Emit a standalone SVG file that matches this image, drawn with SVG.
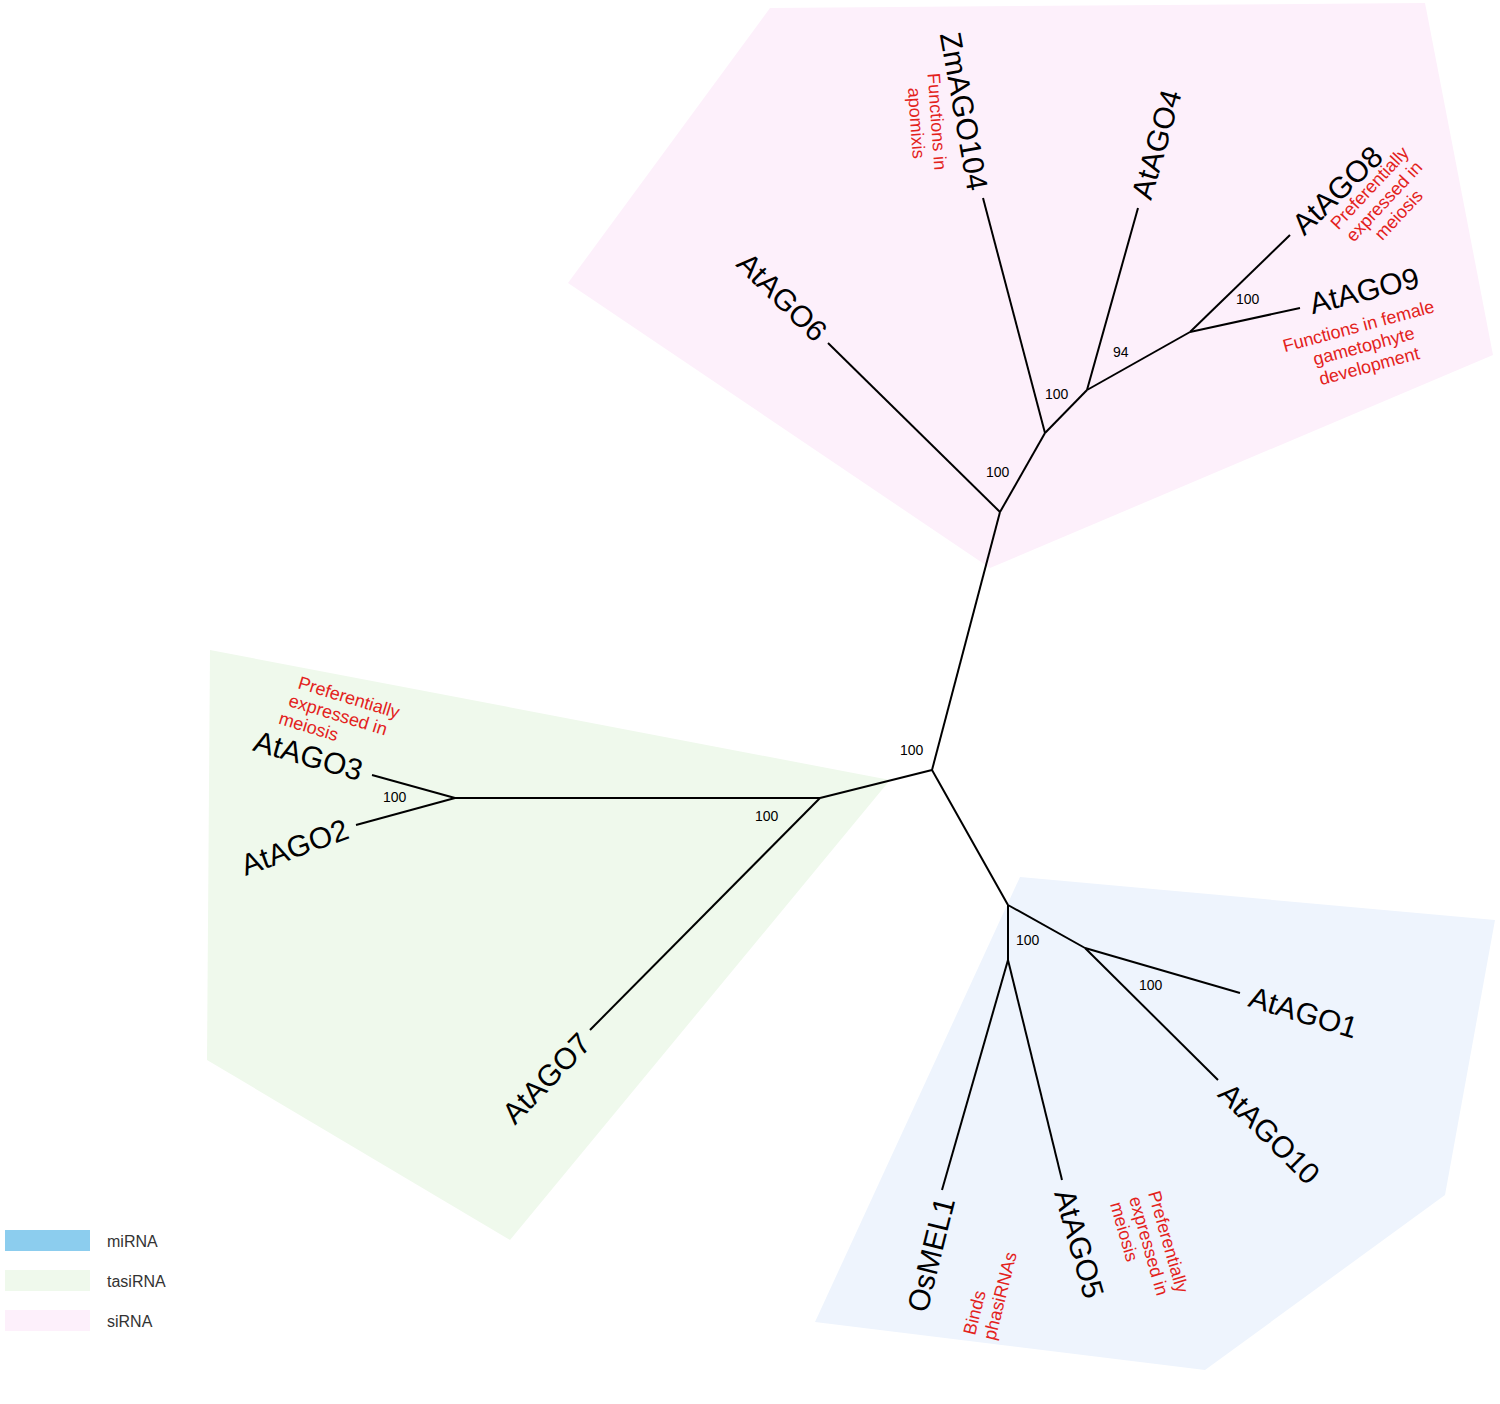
<svg xmlns="http://www.w3.org/2000/svg" width="1500" height="1404" viewBox="0 0 1500 1404">
<style>
.lf{font-family:"Liberation Sans",Arial,sans-serif;font-size:30px;fill:#000}
.rd{font-family:"Liberation Sans",Arial,sans-serif;font-size:18px;fill:#e3221c}
.bs{font-family:"Liberation Sans",Arial,sans-serif;font-size:14px;fill:#000}
.lg{font-family:"Liberation Sans",Arial,sans-serif;font-size:16px;fill:#333}
.br{stroke:#000;stroke-width:2;fill:none}
</style>
<rect width="1500" height="1404" fill="#fff"/>
<g id="clades">
<polygon points="568,283 770,8 1425,3 1493,355 990,568" fill="#fdf0fb"/>
<polygon points="210,650 890,780 510,1240 207,1060" fill="#eff9ec"/>
<polygon points="1020,877 1495,920 1445,1195 1205,1370 815,1322" fill="#eef4fd"/>
</g>
<g id="connectors" class="br">
<line x1="932" y1="770" x2="1000" y2="512"/>
<line x1="1000" y1="512" x2="828" y2="343"/>
<line x1="1000" y1="512" x2="1045" y2="433"/>
<line x1="1045" y1="433" x2="983" y2="198"/>
<line x1="1045" y1="433" x2="1087" y2="390"/>
<line x1="1087" y1="390" x2="1138" y2="208"/>
<line x1="1087" y1="390" x2="1190" y2="332"/>
<line x1="1190" y1="332" x2="1290" y2="235"/>
<line x1="1190" y1="332" x2="1300" y2="308"/>
<line x1="932" y1="770" x2="820" y2="798"/>
<line x1="820" y1="798" x2="455" y2="798"/>
<line x1="455" y1="798" x2="372" y2="775"/>
<line x1="455" y1="798" x2="356" y2="825"/>
<line x1="820" y1="798" x2="590" y2="1030"/>
<line x1="932" y1="770" x2="1008" y2="905"/>
<line x1="1008" y1="905" x2="1085" y2="948"/>
<line x1="1085" y1="948" x2="1240" y2="993"/>
<line x1="1085" y1="948" x2="1218" y2="1080"/>
<line x1="1008" y1="905" x2="1008" y2="960"/>
<line x1="1008" y1="960" x2="942" y2="1190"/>
<line x1="1008" y1="960" x2="1062" y2="1180"/>
</g>
<g id="bootstrap" class="bs">
<text x="900" y="755">100</text>
<text x="986" y="477">100</text>
<text x="1045" y="399">100</text>
<text x="1113" y="357">94</text>
<text x="1236" y="304">100</text>
<text x="383" y="802">100</text>
<text x="755" y="821">100</text>
<text x="1016" y="945">100</text>
<text x="1139" y="990">100</text>
</g>
<g id="node-AtAGO6"><text class="lf" text-anchor="end" dy="0.35em" transform="translate(822,336) rotate(44.5)">AtAGO6</text></g>
<g id="node-ZmAGO104">
<text class="lf" text-anchor="end" dy="0.35em" transform="translate(978,190) rotate(80)">ZmAGO104</text>
<text class="rd" text-anchor="middle" transform="translate(931,122) rotate(86)">Functions in<tspan x="0" dy="1.15em">apomixis</tspan></text>
</g>
<g id="node-AtAGO4"><text class="lf" dy="0.35em" transform="translate(1141,198) rotate(-74)">AtAGO4</text></g>
<g id="node-AtAGO8">
<text class="lf" dy="0.35em" transform="translate(1297,229) rotate(-44)">AtAGO8</text>
<text class="rd" text-anchor="middle" transform="translate(1374,192) rotate(-47)">Preferentially<tspan x="0" dy="1.1em">expressed in</tspan><tspan x="0" dy="1.1em">meiosis</tspan></text>
</g>
<g id="node-AtAGO9">
<text class="lf" dy="0.35em" transform="translate(1310,304) rotate(-14)">AtAGO9</text>
<text class="rd" text-anchor="middle" transform="translate(1360,332) rotate(-15)">Functions in female<tspan x="0" dy="1.15em">gametophyte</tspan><tspan x="0" dy="1.15em">development</tspan></text>
</g>
<g id="node-AtAGO3">
<text class="lf" text-anchor="end" dy="0.35em" transform="translate(362,771) rotate(16)">AtAGO3</text>
<text class="rd" transform="translate(297,688) rotate(17)">Preferentially<tspan x="-4" dy="1.1em">expressed in</tspan><tspan x="-8" dy="1.1em">meiosis</tspan></text>
</g>
<g id="node-AtAGO2"><text class="lf" text-anchor="end" dy="0.35em" transform="translate(347,828) rotate(-20)">AtAGO2</text></g>
<g id="node-AtAGO7"><text class="lf" text-anchor="end" dy="0.35em" transform="translate(585,1038) rotate(-46)">AtAGO7</text></g>
<g id="node-AtAGO1"><text class="lf" dy="0.35em" transform="translate(1250,996) rotate(17)">AtAGO1</text></g>
<g id="node-AtAGO10"><text class="lf" dy="0.35em" transform="translate(1224,1088) rotate(45)">AtAGO10</text></g>
<g id="node-AtAGO5">
<text class="lf" dy="0.35em" transform="translate(1064,1190) rotate(74)">AtAGO5</text>
<text class="rd" transform="translate(1148,1193) rotate(74)">Preferentially<tspan x="0" dy="1.1em">expressed in</tspan><tspan x="0" dy="1.1em">meiosis</tspan></text>
</g>
<g id="node-OsMEL1">
<text class="lf" text-anchor="end" dy="0.35em" transform="translate(945,1198) rotate(-76)">OsMEL1</text>
<text class="rd" transform="translate(975,1336) rotate(-76)">Binds<tspan x="0" dy="1.15em">phasiRNAs</tspan></text>
</g>
<g id="legend">
<rect x="5" y="1230" width="85" height="21" fill="#8ccdee"/>
<rect x="5" y="1270" width="85" height="21" fill="#eff9ec"/>
<rect x="5" y="1310" width="85" height="21" fill="#fdf0fb"/>
<text class="lg" x="107" y="1247">miRNA</text>
<text class="lg" x="107" y="1287">tasiRNA</text>
<text class="lg" x="107" y="1327">siRNA</text>
</g>
</svg>
